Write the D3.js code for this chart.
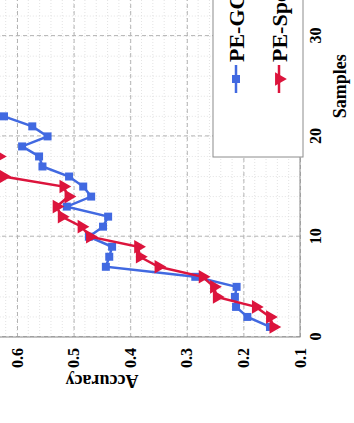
<!DOCTYPE html>
<html lang="en">
<head>
    <meta charset="UTF-8">
    <title>Accuracy vs Samples</title>
    <script src="https://d3js.org/d3.v7.min.js"></script>
    <style>
        body { margin: 0; background: white; }
        svg { display: block; }
    </style>
</head>
<body>
<script>

    // data
    var samples_gc = [1, 2, 3, 4, 5, 6, 7, 8, 9, 10, 11, 12, 13, 14, 15, 16, 17, 18, 19, 20, 21, 22, 23]
    var acc_gc = [0.153, 0.193, 0.213, 0.215, 0.212, 0.285, 0.443, 0.437, 0.432, 0.473, 0.448, 0.439,
        0.512, 0.469, 0.483, 0.508, 0.555, 0.561, 0.591, 0.546, 0.573, 0.623, 0.66]
    var samples_sp = [1, 2, 3, 4, 5, 6, 7, 8, 9, 10, 11, 12, 13, 14, 15, 16, 17, 18, 19]
    var acc_sp = [0.147, 0.153, 0.178, 0.247, 0.252, 0.272, 0.35, 0.383, 0.386, 0.471, 0.486, 0.521,
        0.530, 0.509, 0.518, 0.624, 0.65, 0.632, 0.66]
    var series_names = ["PE-GCN", "PE-SpecFormer"]
    var series_colors = ["#4169e1", "#dc143c"]
    var samples_grid = [0, 10, 20, 30, 40, 50]
    var acc_grid = [0.1, 0.2, 0.3, 0.4, 0.5, 0.6, 0.7, 0.8]
    // only these labels fall inside the cropped view
    var samples_ticks = [0, 10, 20, 30]
    var acc_ticks = [0.1, 0.2, 0.3, 0.4, 0.5, 0.6]

    var width = 354
    var height = 423
    var font = "'Liberation Serif', 'Times New Roman', serif"

    // plot size in the (unrotated) chart frame
    var Wp = 501.5
    var Hp = 396.2

    var svg = d3.select("body").append("svg")
        .attr("width", width)
        .attr("height", height)

    // the whole figure is turned a quarter turn counter-clockwise
    var g = svg.append("g")
        .attr("transform", "translate(" + (300 - Hp) + ",337) rotate(-90)")

    var x = d3.scaleLinear().domain([0, 50]).range([0, Wp])
    var y = d3.scaleLinear().domain([0.1, 0.8]).range([Hp, 0])

    // minor grid
    var minor = g.append("g")
    d3.range(0, 50.01, 2).forEach(function (s) {
        minor.append("line")
            .attr("x1", x(s)).attr("x2", x(s))
            .attr("y1", 0).attr("y2", Hp)
            .attr("stroke", "#dcdcdc").attr("stroke-width", 0.8)
            .attr("stroke-dasharray", "1,2")
    })
    d3.range(0.1, 0.801, 0.02).forEach(function (a) {
        minor.append("line")
            .attr("x1", 0).attr("x2", Wp)
            .attr("y1", y(a)).attr("y2", y(a))
            .attr("stroke", "#dcdcdc").attr("stroke-width", 0.8)
            .attr("stroke-dasharray", "1,2")
    })

    // major grid
    g.append("g")
        .attr("transform", "translate(0," + Hp + ")")
        .call(d3.axisBottom(x).tickValues(samples_grid).tickSize(-Hp).tickFormat(""))
        .call(function (s) {
            s.select(".domain").remove()
            s.selectAll("line").attr("stroke", "#b4b4b4").attr("stroke-dasharray", "4,3")
        })
    g.append("g")
        .call(d3.axisLeft(y).tickValues(acc_grid).tickSize(-Wp).tickFormat(""))
        .call(function (s) {
            s.select(".domain").remove()
            s.selectAll("line").attr("stroke", "#b4b4b4").attr("stroke-dasharray", "4,3")
        })

    // frame
    g.append("rect")
        .attr("x", 0).attr("y", 0)
        .attr("width", Wp).attr("height", Hp)
        .attr("fill", "none")
        .attr("stroke", "#8c8c8c")
        .attr("stroke-width", 1)

    // axes labels
    var xAxis = g.append("g")
        .attr("transform", "translate(0," + Hp + ")")
        .call(d3.axisBottom(x).tickValues(samples_ticks).tickSize(0).tickPadding(10))
    var yAxis = g.append("g")
        .call(d3.axisLeft(y).tickValues(acc_ticks).tickSize(0).tickPadding(11)
            .tickFormat(d3.format(".1f")))
    ;[xAxis, yAxis].forEach(function (a) {
        a.select(".domain").remove()
        a.selectAll("text")
            .attr("font-family", font)
            .attr("font-weight", "bold")
            .attr("font-size", 16)
            .attr("fill", "black")
    })

    g.append("text")
        .attr("x", x(25))
        .attr("y", Hp + 46)
        .attr("text-anchor", "middle")
        .attr("font-family", font)
        .attr("font-weight", "bold")
        .attr("font-size", 18)
        .text("Samples")

    g.append("text")
        .attr("transform", "translate(-38," + y(0.45) + ") rotate(-90)")
        .attr("text-anchor", "middle")
        .attr("font-family", font)
        .attr("font-weight", "bold")
        .attr("font-size", 18)
        .text("Accuracy")

    // series
    var line = d3.line()
        .x(function (d) { return x(d[0]) })
        .y(function (d) { return y(d[1]) })

    var data_gc = samples_gc.map(function (s, i) { return [s, acc_gc[i]] })
    var data_sp = samples_sp.map(function (s, i) { return [s, acc_sp[i]] })

    var square = d3.symbol().type(d3.symbolSquare).size(64)
    var triangle = d3.symbol().type(d3.symbolTriangle).size(80)

    g.append("path")
        .datum(data_gc)
        .attr("d", line)
        .attr("fill", "none")
        .attr("stroke", series_colors[0])
        .attr("stroke-width", 2.5)
    g.selectAll(".mk_gc")
        .data(data_gc)
        .enter().append("path")
        .attr("class", "mk_gc")
        .attr("d", square)
        .attr("transform", function (d) { return "translate(" + x(d[0]) + "," + y(d[1]) + ")" })
        .attr("fill", series_colors[0])

    g.append("path")
        .datum(data_sp)
        .attr("d", line)
        .attr("fill", "none")
        .attr("stroke", series_colors[1])
        .attr("stroke-width", 2.5)
    g.selectAll(".mk_sp")
        .data(data_sp)
        .enter().append("path")
        .attr("class", "mk_sp")
        .attr("d", triangle)
        .attr("transform", function (d) { return "translate(" + x(d[0]) + "," + y(d[1]) + ") rotate(180)" })
        .attr("fill", series_colors[1])

    // legend, lower right of the plot
    var legend = g.append("g")
    legend.append("rect")
        .attr("x", 180).attr("y", Hp - 87)
        .attr("width", 300).attr("height", 90)
        .attr("fill", "white")
        .attr("stroke", "#8c8c8c")
        .attr("stroke-width", 1)

    var rows = [Hp - 64, Hp - 21]
    series_names.forEach(function (name, i) {
        var cy = rows[i]
        legend.append("line")
            .attr("x1", 244).attr("x2", 272)
            .attr("y1", cy).attr("y2", cy)
            .attr("stroke", series_colors[i])
            .attr("stroke-width", 2.5)
        legend.append("path")
            .attr("d", i == 0 ? square : triangle)
            .attr("transform", "translate(258," + cy + ")" + (i == 0 ? "" : " rotate(180)"))
            .attr("fill", series_colors[i])
        legend.append("text")
            .attr("x", 275)
            .attr("y", cy + 8)
            .attr("font-family", font)
            .attr("font-weight", "bold")
            .attr("font-size", 22)
            .text(name)
    })

</script>
</body>
</html>
